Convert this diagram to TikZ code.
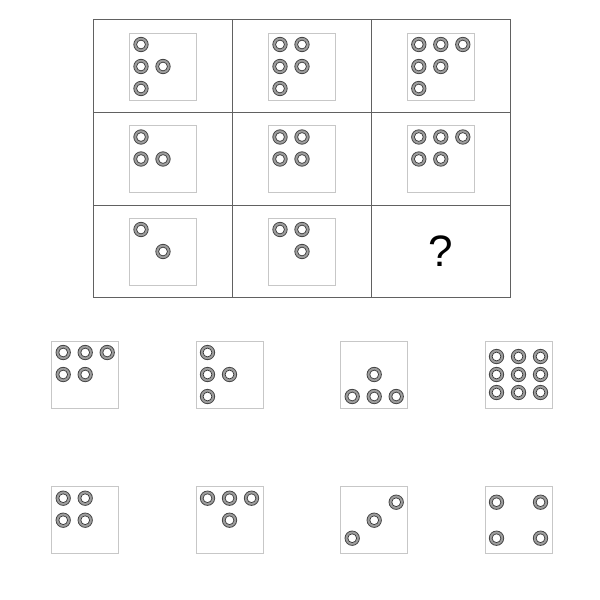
\documentclass[tikz,border=0pt]{standalone}
\usepackage{fontspec}
\setmainfont{Liberation Sans}
\tikzset{
  gridline/.style={draw=black!62, line width=0.9pt},
  diebox/.style={draw=black!22, line width=1pt},
  ringouter/.style={fill=black!38, draw=black!72, line width=0.8pt},
  ringinner/.style={fill=white, draw=black!78, line width=0.7pt},
}
\newcommand\mydie[3]{%
  \draw[diebox] (#1,#2) rectangle ++(67,67);
  \foreach \u/\v in {#3}{%
    \path[ringouter] ({#1+\u},{#2+\v}) circle (7.2);
    \path[ringinner] ({#1+\u},{#2+\v}) circle (4.4);
  }%
}
\begin{document}
\begin{tikzpicture}[x=1pt,y=-1pt]
\useasboundingbox[fill=white] (0,0) rectangle (600,600);
% grid
\draw[gridline] (93.7,19.7) rectangle (510,297.7);
\draw[gridline] (232.7,19.7) -- (232.7,297.7);
\draw[gridline] (371.3,19.7) -- (371.3,297.7);
\draw[gridline] (93.7,112.7) -- (510,112.7);
\draw[gridline] (93.7,205.2) -- (510,205.2);
\def\a{11.5}\def\b{33.5}\def\c{55.5}\def\p{15.5}\def\q{51.5}
% row 1
\mydie{129.5}{33}{\a/\a,\a/\b,\b/\b,\a/\c}
\mydie{268.5}{33}{\a/\a,\b/\a,\a/\b,\b/\b,\a/\c}
\mydie{407.3}{33}{\a/\a,\b/\a,\c/\a,\a/\b,\b/\b,\a/\c}
% row 2
\mydie{129.5}{125.5}{\a/\a,\a/\b,\b/\b}
\mydie{268.5}{125.5}{\a/\a,\b/\a,\a/\b,\b/\b}
\mydie{407.3}{125.5}{\a/\a,\b/\a,\c/\a,\a/\b,\b/\b}
% row 3
\mydie{129.5}{218}{\a/\a,\b/\b}
\mydie{268.5}{218}{\a/\a,\b/\a,\b/\b}
\node[font=\fontsize{44}{44}\selectfont, inner sep=0pt] (qm) at (440.5,251) {?};
% options
\mydie{51.7}{341}{\a/\a,\b/\a,\c/\a,\a/\b,\b/\b}
\mydie{196}{341}{\a/\a,\a/\b,\b/\b,\a/\c}
\mydie{340.7}{341}{\b/\b,\a/\c,\b/\c,\c/\c}
\mydie{485}{341}{\a/\p,\b/\p,\c/\p,\a/\b,\b/\b,\c/\b,\a/\q,\b/\q,\c/\q}
\mydie{51.7}{486.7}{\a/\a,\b/\a,\a/\b,\b/\b}
\mydie{196}{486.7}{\a/\a,\b/\a,\c/\a,\b/\b}
\mydie{340.7}{486.7}{\a/\q,\b/\b,\c/\p}
\mydie{485}{486.7}{\a/\p,\c/\p,\a/\q,\c/\q}
\end{tikzpicture}
\end{document}
